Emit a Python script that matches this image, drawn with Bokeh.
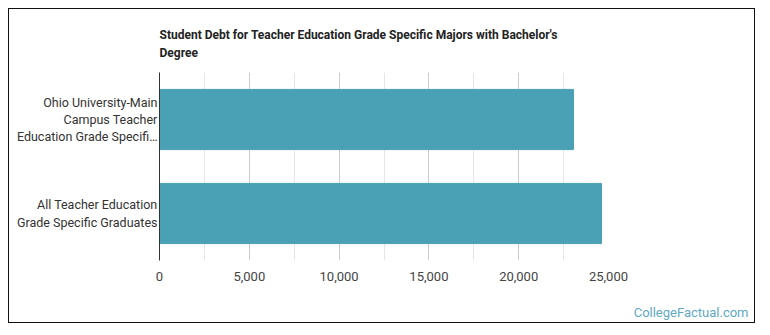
from bokeh.plotting import figure
from bokeh.models import FactorRange, Range1d, FixedTicker, Title, NumeralTickFormatter
from bokeh.embed import file_html
from bokeh.resources import INLINE

categories = ["All Teacher Education\nGrade Specific Graduates",
              "Ohio University-Main\nCampus Teacher\nEducation Grade Specifi\u2026"]
debt = [24610, 23050]
x_ticks = [0, 5000, 10000, 15000, 20000, 25000]
x_minor = [2500, 7500, 12500, 17500, 22500]
title_text = "Student Debt for Teacher Education Grade Specific Majors with Bachelor's\nDegree"
watermark = "CollegeFactual.com"

# page geometry: canvas starts at (9, 9) inside a 1px border drawn at x=8 / y=8
OX, OY = 9, 9
W, H = 747, 315
FL, FR, FT, FB = 159 - OX, 608 - OX, 72 - OY, 260 - OY
XMAX = 25000

p = figure(width=W, height=H, output_backend="svg", toolbar_location=None,
           y_range=FactorRange(factors=categories, range_padding=0),
           x_range=Range1d(0, XMAX),
           min_border_left=FL, min_border_right=W - FR,
           min_border_top=FT, min_border_bottom=H - FB)
p.hbar(y=categories, right=debt, height=0.64, color="#4aa0b4")

p.title.text = title_text
p.title.align = "left"
p.title.text_font = "Roboto"
p.title.text_font_style = "bold"
p.title.text_font_size = "12px"
p.title.text_color = "#222222"
p.title.text_line_height = 1.25
p.title.standoff = 26
p.title.offset = 0

p.outline_line_color = None
p.background_fill_color = "white"
p.border_fill_color = "white"
p.styles = {"border": "1px solid #111111", "margin-left": "8px", "margin-top": "8px"}

p.xaxis.ticker = FixedTicker(ticks=x_ticks, minor_ticks=x_minor)
p.xaxis.formatter = NumeralTickFormatter(format="0,0")
p.xaxis.axis_line_color = None
p.xaxis.major_tick_line_color = None
p.xaxis.minor_tick_line_color = None
p.xaxis.major_tick_out = 0
p.xaxis.minor_tick_out = 0
p.xaxis.major_label_text_font = "Roboto"
p.xaxis.major_label_text_font_size = "13px"
p.xaxis.major_label_text_color = "#444444"
p.xaxis.major_label_standoff = 11

# small spacer between axis labels and the watermark
p.add_layout(Title(text=" ", text_font_size="1px", standoff=16), "below")
p.add_layout(Title(text=watermark, align="right", offset=-140,
                   text_font="Roboto", text_font_size="13px", text_color="#5fa9c2",
                   text_font_style="normal", standoff=0), "below")

p.xgrid.grid_line_color = "#cccccc"
p.xgrid.minor_grid_line_color = "#e6e6e6"
p.ygrid.grid_line_color = None

p.yaxis.axis_line_color = "#333333"
p.yaxis.major_tick_line_color = None
p.yaxis.minor_tick_line_color = None
p.yaxis.major_tick_out = 0
p.yaxis.minor_tick_out = 0
p.yaxis.major_label_text_font = "Roboto"
p.yaxis.major_label_text_font_size = "12.5px"
p.yaxis.major_label_text_color = "#333333"
p.yaxis.major_label_text_line_height = 1.15
p.yaxis.major_label_standoff = 2

open("out.html", "w").write(file_html(p, INLINE))
